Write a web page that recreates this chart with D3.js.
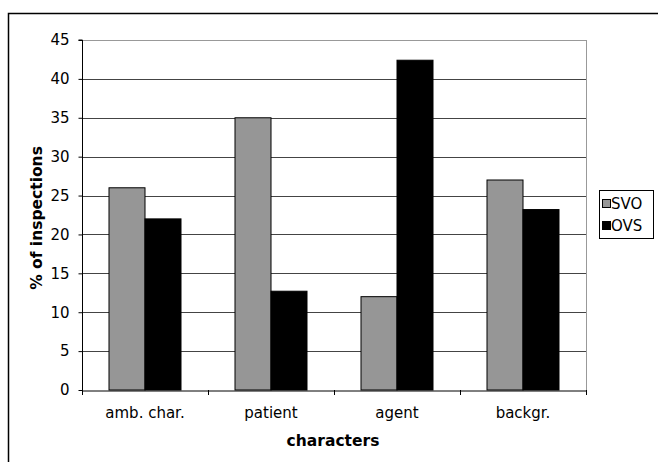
<!DOCTYPE html>
<html><head><meta charset="utf-8">
<script src="https://cdn.jsdelivr.net/npm/d3@7"></script>
<style>body{margin:0;background:#fff}svg{display:block}text{font-family:"DejaVu Sans",Verdana,sans-serif}</style>
</head><body>
<script>
const categories = ["amb. char.", "patient", "agent", "backgr."];
const seriesNames = ["SVO", "OVS"];
const svo = [26, 35, 12, 27];
const ovs = [22, 12.7, 42.4, 23.2];
const yTicks = [0, 5, 10, 15, 20, 25, 30, 35, 40, 45];
const colors = ["#969696", "#000000"];

(function () {
const W = 658, H = 462;
const FS = 15, TFS = 15.5;
const svg = d3.select("body").append("svg").attr("width", W).attr("height", H);

// outer chart border
svg.append("rect").attr("x", 8.5).attr("y", 13.5).attr("width", 700).attr("height", 500)
  .attr("fill", "none").attr("stroke", "#000").attr("stroke-width", 1.5);

const pL = 82, pR = 586, pT = 40, pB = 390;
const x = d3.scaleBand().domain(categories).range([pL, pR]);
const y = d3.scaleLinear().domain([0, 45]).range([pB, pT]);
const barW = 36;
const x1 = d3.scaleBand().domain(seriesNames).range([0, barW * 2]);

// gridlines
svg.append("g").selectAll("line").data(yTicks.filter(d => d > 0)).join("line")
  .attr("x1", pL).attr("x2", pR)
  .attr("y1", d => Math.round(y(d)) + 0.5).attr("y2", d => Math.round(y(d)) + 0.5)
  .attr("stroke", d => d === 45 ? "#999" : "#444").attr("stroke-width", 1);

// plot border right
svg.append("line").attr("x1", pR + 0.5).attr("x2", pR + 0.5).attr("y1", pT).attr("y2", pB)
  .attr("stroke", "#999");

// bars
const data = categories.map((c, i) => ({c, vals: [svo[i], ovs[i]]}));
const g = svg.append("g").selectAll("g").data(data).join("g")
  .attr("transform", d => `translate(${x(d.c) + (x.bandwidth() - barW * 2) / 2},0)`);
g.selectAll("rect").data(d => d.vals.map((v, j) => ({v, s: seriesNames[j], j}))).join("rect")
  .attr("x", d => x1(d.s)).attr("width", x1.bandwidth())
  .attr("y", d => y(d.v)).attr("height", d => pB - y(d.v))
  .attr("fill", d => colors[d.j]).attr("stroke", "#000").attr("stroke-width", 1);

// y axis
const yAxis = d3.axisLeft(y).tickValues(yTicks).tickSize(4).tickPadding(9);
const ya = svg.append("g").attr("transform", `translate(${pL + 0.5},0)`).call(yAxis)
  .attr("font-size", FS).attr("font-family", "'DejaVu Sans',Verdana,sans-serif");
ya.select(".domain").attr("stroke", "#000").attr("d", `M-4,${pT}H0V${pB}`);
ya.selectAll("text").attr("fill", "#000");

// x axis
const xa = svg.append("g").attr("transform", `translate(0,${pB + 0.5})`)
  .call(d3.axisBottom(x).tickSize(0).tickPadding(17))
  .attr("font-size", FS).attr("font-family", "'DejaVu Sans',Verdana,sans-serif");
xa.select(".domain").attr("stroke", "#000");
xa.selectAll("text").attr("fill", "#000");
svg.append("g").selectAll("line").data(d3.range(categories.length + 1)).join("line")
  .attr("x1", i => pL + i * x.step() + 0.5).attr("x2", i => pL + i * x.step() + 0.5)
  .attr("y1", pB).attr("y2", pB + 5).attr("stroke", "#000");

// axis titles
svg.append("text").attr("x", 333).attr("y", 446).attr("text-anchor", "middle")
  .attr("font-size", TFS).attr("font-weight", "bold").text("characters");
svg.append("text").attr("transform", "translate(42,218) rotate(-90)").attr("text-anchor", "middle")
  .attr("font-size", TFS).attr("font-weight", "bold").text("% of inspections");

// legend
const lg = svg.append("g");
lg.append("rect").attr("x", 599.5).attr("y", 190.5).attr("width", 54).attr("height", 48)
  .attr("fill", "#fff").attr("stroke", "#000");
seriesNames.forEach((s, i) => {
  const cy = 204 + i * 22;
  lg.append("rect").attr("x", 602.5).attr("y", cy - 4.5).attr("width", 8).attr("height", 8)
    .attr("fill", colors[i]).attr("stroke", "#000");
  lg.append("text").attr("x", 611).attr("y", cy + 5).attr("font-size", FS).text(s);
});
})();
</script>
</body></html>
